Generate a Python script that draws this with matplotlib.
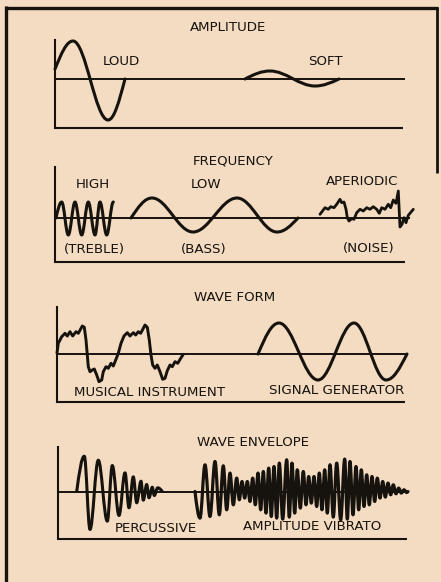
import matplotlib
matplotlib.use("Agg")
import matplotlib.pyplot as plt
from matplotlib.path import Path
from matplotlib.patches import PathPatch

# ---------------- data (x = distance from each panel's vertical axis, y = signal level) -------------
# AMPLITUDE
loud_x = [0, 18, 53, 70]
loud_y = [10, 38, -41, 0]
soft_x = [190, 215, 260, 284]
soft_y = [0, 8, -7, 0]

# FREQUENCY
high_x = [1, 6.7, 13.3, 20, 26.7, 33.3, 40, 45, 51.7, 58.3]
high_y = [0, 16, -17, 16, -17, 16, -17, 16, -17, 16]
low_x = [76, 97, 138, 182, 222, 243]
low_y = [0, 20, -14, 20, -14, 0]
noise_x = [265, 270, 273.3, 275.7, 279, 281.7, 285, 286.7, 289, 291, 292.3, 294, 296.7, 299,
           301.7, 305, 308.3, 311.7, 315, 318.3, 321.7, 324.3, 326.7, 330, 333.3, 335.7, 338.3,
           341, 343.3, 345, 347, 349, 351, 353.3, 358.3]
noise_y = [3.7, 10.3, 8.7, 11.3, 10.3, 13.7, 18.7, 15.3, 16, 8.7, 0.3, -3, -0.7, -1.3,
           5.3, 8.7, 7, 10.3, 8.7, 11.3, 8.7, 4.7, 10.3, 8.7, 13.7, 10.3, 18,
           14.7, 27, -9, -6.3, 0.3, -4.7, 2.7, 8.7]

# WAVE FORM
instr_x = [0, 1.3, 4.7, 8, 10.3, 13, 15.7, 19, 21.3, 25.3, 27.3, 29, 30.3, 31.3, 33, 35.3, 37.3,
           39.7, 42, 44.7, 46.3, 49, 51.3, 54, 56.3, 58.7, 61.3, 64, 67, 70.3, 73, 76.3, 78.7,
           81.3, 83.7, 88, 90.3, 92.3, 94, 95.7, 98, 100.3, 103, 105.7, 108, 110.3, 113, 115.3,
           118, 120.7, 123.7, 126.3]
instr_y = [1, 10.7, 17.3, 20.7, 18, 22.3, 18, 22.3, 20.7, 28, 26.7, 14, -1, -12.7, -17.7, -16,
           -15, -21, -27.7, -26, -17.7, -12.7, -14.3, -9.3, -12, -6, 0.7, 10.7, 18, 21.3, 18,
           21.3, 19, 22.3, 20.7, 29, 26.7, 14, -1, -11, -14.3, -11, -17.7, -25.3, -24.3, -16.7,
           -11, -12.7, -7.7, -9.3, -4.3, -0.3]
siggen_x = [201, 222, 261, 297, 329, 350]
siggen_y = [0, 31, -26, 31, -26, 0]

# WAVE ENVELOPE
perc_x = [18.7, 26.3, 32, 40.3, 49.3, 54.3, 61, 67, 71, 75.3, 78.7, 83, 85.3, 88.7, 91, 94.3,
          96.3, 99.7, 104.3]
perc_y = [0, 35.3, -38, 31.3, -29.7, 26, -24, 18.7, -16.3, 14.7, -11.3, 10.3, -8.7, 7, -6.3,
          4.3, -4, 3.7, 0]
vib_x = [137, 142, 147, 152, 157, 161.3, 165.3, 168.7, 172, 175.3, 178.7, 181.3, 184, 186.7,
         189.3, 192, 194.7, 197.3, 200, 202.7, 205.3, 208, 210.7, 213.3, 216, 218.7, 221.3,
         224.7, 228.7, 231.3, 234, 236.7, 239.3, 242.3, 245.3, 248, 250.7, 253.3, 256, 258.7,
         261.3, 264, 266.7, 269.3, 272, 275.3, 278.7, 282.7, 286.7, 289.3, 292, 295, 298,
         300.7, 303.3, 306, 308.7, 311.3, 314, 316.7, 319.3, 322, 324.7, 327.3, 330, 332.7,
         335.3, 338, 340.7, 343.3, 346, 348.7, 350]
vib_y = [0, -26.6, 26.7, -25, 30, -23.3, 25.7, -18.3, 18.4, -13.3, 13.4, -8.3, 10, -6.6, 10,
         -10, 13.4, -13.3, 18.4, -18.3, 20, -21.6, 23.4, -25, 25, -26.6, 28.4, -27.6, 31.7,
         -25.6, 28.4, -21.6, 21.7, -16.6, 20, -13.3, 15, -11.6, 15, -15, 18.4, -18.3, 21.7,
         -21.6, 26.7, -25.6, 28.4, -28.3, 32.4, -27.6, 30, -23.3, 25, -18.3, 21.7, -15, 16.7,
         -13.3, 15, -10, 13.4, -6.6, 10, -5.6, 8.4, -3.3, 6.7, -2.3, 3.4, -1.6, 1.7, -1, 0]

titles = ["AMPLITUDE", "FREQUENCY", "WAVE FORM", "WAVE ENVELOPE"]

# ---------------- style / layout ----------------
W, H = 441, 582
BG = "#f4dcc2"
INK = "#16120e"
FONT = "DejaVu Sans"
FS = 9.6

fig = plt.figure(figsize=(W / 100, H / 100), dpi=100, facecolor=BG)

canvas = fig.add_axes([0, 0, 1, 1])
canvas.set_xlim(0, W)
canvas.set_ylim(H, 0)
canvas.axis("off")
canvas.set_facecolor(BG)

# outer frame
canvas.plot([5.5, 5.5], [6, H], color=INK, lw=2.4, solid_capstyle="butt")
canvas.plot([4.5, 437.5], [7.5, 7.5], color=INK, lw=2.4, solid_capstyle="butt")
canvas.plot([437, 437], [6.5, 173], color=INK, lw=2.0, solid_capstyle="butt")


def wave_path(xs, ys):
    verts = [(xs[0], ys[0])]
    codes = [Path.MOVETO]
    n = len(xs)
    for i in range(n - 1):
        x0, y0, x1, y1 = xs[i], ys[i], xs[i + 1], ys[i + 1]
        dx = x1 - x0
        steep0 = i == 0 and abs(y0) < 0.5 * abs(y1)
        steep1 = i == n - 2 and abs(y1) < 0.5 * abs(y0)
        c1 = (x0 + 0.35 * dx, y0 + 0.55 * (y1 - y0)) if steep0 else (x0 + 0.364 * dx, y0)
        c2 = (x1 - 0.35 * dx, y1 - 0.55 * (y1 - y0)) if steep1 else (x1 - 0.364 * dx, y1)
        verts += [c1, c2, (x1, y1)]
        codes += [Path.CURVE4] * 3
    return Path(verts, codes)


def panel(left, right, top, bottom, base, base_end, bottom_end):
    ax = fig.add_axes([left / W, 1 - bottom / H, (right - left) / W, (bottom - top) / H])
    ax.set_xlim(0, right - left)
    ax.set_ylim(-(bottom - base), base - top)
    ax.patch.set_alpha(0)
    for s in ["top", "right", "bottom"]:
        ax.spines[s].set_visible(False)
    ax.spines["left"].set_linewidth(1.5)
    ax.spines["left"].set_color(INK)
    ax.set_xticks([])
    ax.set_yticks([])
    lo = -(bottom - base)
    ax.plot([0, bottom_end - left], [lo, lo], color=INK, lw=1.5, clip_on=False,
            solid_capstyle="butt")
    ax.plot([0, base_end - left], [0, 0], color=INK, lw=1.4, clip_on=False,
            solid_capstyle="butt")
    return ax


def draw(ax, xs, ys, lw=2.2):
    ax.add_patch(PathPatch(wave_path(xs, ys), facecolor="none", edgecolor=INK, lw=lw,
                           clip_on=False, capstyle="round", joinstyle="round"))


def label(x, y, s):
    canvas.text(x, y, s, ha="center", va="center", fontsize=FS, family=FONT, color=INK)


# AMPLITUDE panel
a1 = panel(55, 405, 40, 128, 79, 405, 403)
draw(a1, loud_x, loud_y)
draw(a1, soft_x, soft_y)
label(228, 27.5, titles[0])
label(121, 61.5, "LOUD")
label(325, 61.5, "SOFT")

# FREQUENCY panel
a2 = panel(55, 405, 167, 262, 218, 410, 405)
draw(a2, high_x, high_y)
draw(a2, low_x, low_y)
a2.plot(noise_x, noise_y, color=INK, lw=2.0, clip_on=False, solid_joinstyle="round",
        solid_capstyle="round")
label(233, 161, titles[1])
label(93, 184, "HIGH")
label(206, 184, "LOW")
label(362, 181.5, "APERIODIC")
label(94, 250, "(TREBLE)")
label(204, 250, "(BASS)")
label(369, 248.5, "(NOISE)")

# WAVE FORM panel
a3 = panel(57, 407, 306.5, 402, 354, 407, 405)
a3.plot(instr_x, instr_y, color=INK, lw=2.1, clip_on=False, solid_joinstyle="round",
        solid_capstyle="round")
draw(a3, siggen_x, siggen_y)
label(235, 297.5, titles[2])
label(150, 392, "MUSICAL INSTRUMENT")
label(337, 391, "SIGNAL GENERATOR")

# WAVE ENVELOPE panel
a4 = panel(58, 407, 446.5, 538.5, 491.5, 407, 407)
draw(a4, perc_x, perc_y, lw=2.2)
draw(a4, vib_x, vib_y, lw=2.3)
label(253, 442, titles[3])
label(156, 528, "PERCUSSIVE")
label(312, 527, "AMPLITUDE VIBRATO")

fig.savefig("out.png", dpi=100, facecolor=BG)
